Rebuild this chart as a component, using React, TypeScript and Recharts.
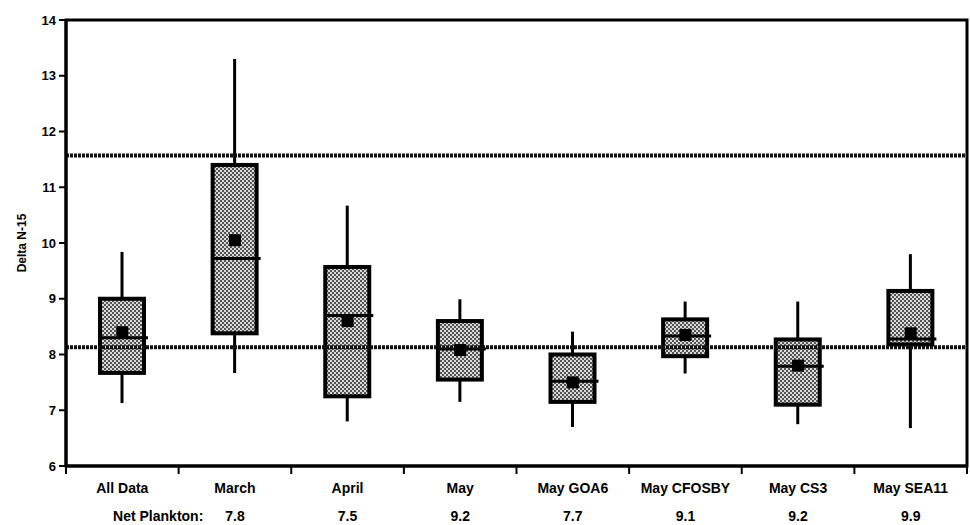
import {
  Bar,
  ComposedChart,
  ReferenceArea,
  ReferenceLine,
  Scatter,
  XAxis,
  YAxis,
} from 'recharts';

const categories = ['All Data', 'March', 'April', 'May', 'May GOA6', 'May CFOSBY', 'May CS3', 'May SEA11'];
const whiskerMax = [9.84, 13.3, 10.67, 8.99, 8.41, 8.95, 8.95, 9.8];
const q3 = [9.0, 11.4, 9.57, 8.6, 8.0, 8.63, 8.27, 9.14];
const median = [8.3, 9.72, 8.7, 8.1, 7.52, 8.33, 7.79, 8.28];
const q1 = [7.67, 8.38, 7.25, 7.55, 7.15, 7.97, 7.1, 8.18];
const whiskerMin = [7.13, 7.67, 6.8, 7.15, 6.7, 7.66, 6.75, 6.68];
const means = [8.4, 10.05, 8.6, 8.08, 7.5, 8.35, 7.8, 8.38];
const netPlankton = ['', '7.8', '7.5', '9.2', '7.7', '9.1', '9.2', '9.9'];
const refValues = [11.57, 8.13];
const yTicks = [6, 7, 8, 9, 10, 11, 12, 13, 14];

const W = 970;
const H = 525;
const M = { top: 20, right: 3, bottom: 0, left: 0 };
const Y_AXIS_W = 66;
const X_AXIS_H = 59;
const BAND = (W - M.right - Y_AXIS_W) / categories.length;
const FONT = '"Liberation Sans", Arial, sans-serif';

const chartData = categories.map((name, i) => ({
  name,
  range: [whiskerMin[i], whiskerMax[i]],
  min: whiskerMin[i],
  max: whiskerMax[i],
  q1: q1[i],
  q3: q3[i],
  median: median[i],
  mean: means[i],
  plankton: netPlankton[i],
}));

function BoxShape(props: any) {
  const { x, y, width, height, payload } = props;
  if (height == null || !payload) return null;
  const k = height / (payload.max - payload.min);
  const py = (v: number) => y + (payload.max - v) * k;
  const cx = x + width / 2;
  const top = py(payload.q3);
  const bot = py(payload.q1);
  const med = py(payload.median);
  return (
    <g>
      <line x1={cx} x2={cx} y1={y} y2={y + height} stroke="#000" strokeWidth={3} />
      <rect x={x} y={top} width={width} height={bot - top} fill="url(#halftone)" stroke="#000" strokeWidth={4} />
      <line x1={x} x2={x + width + 4} y1={med} y2={med} stroke="#000" strokeWidth={3} />
    </g>
  );
}

function MeanShape(props: any) {
  const { cx, cy } = props;
  if (cx == null || cy == null) return null;
  return <rect x={cx - 6} y={cy - 6} width={12} height={12} fill="#000" />;
}

function CategoryTick(props: any) {
  const { x, y, payload, index } = props;
  const row = chartData[index];
  const txt = { fontFamily: FONT, fontWeight: 'bold', fontSize: 14, fill: '#000' } as const;
  return (
    <g>
      <line x1={x - BAND / 2} x2={x - BAND / 2} y1={y - 6} y2={y + 2} stroke="#000" strokeWidth={2} />
      {index === categories.length - 1 ? (
        <line x1={x + BAND / 2} x2={x + BAND / 2} y1={y - 6} y2={y + 2} stroke="#000" strokeWidth={2} />
      ) : null}
      <text x={x} y={y + 21} textAnchor="middle" {...txt}>
        {payload.value}
      </text>
      {index === 0 ? (
        <text x={x + 81} y={y + 49} textAnchor="end" {...txt}>
          Net Plankton:
        </text>
      ) : (
        <text x={x} y={y + 49} textAnchor="middle" {...txt}>
          {row ? row.plankton : ''}
        </text>
      )}
    </g>
  );
}

export default function App() {
  return (
    <div style={{ position: 'absolute', left: 0, top: 0, width: W, height: H, background: '#fff' }}>
      <ComposedChart width={W} height={H} data={chartData} margin={M}>
        <defs>
          <pattern id="halftone" width={4} height={4} patternUnits="userSpaceOnUse">
            <rect width={4} height={4} fill="#d8d8d8" />
            <rect x={0} y={0} width={2} height={2} fill="#555" />
            <rect x={2} y={2} width={2} height={2} fill="#555" />
          </pattern>
        </defs>
        <ReferenceArea y1={6} y2={14} fill="none" stroke="#000" strokeWidth={3} ifOverflow="visible" />
        {refValues.map((v) => (
          <ReferenceLine key={v} y={v} stroke="#111" strokeWidth={4} strokeDasharray="3 1" />
        ))}
        <XAxis
          dataKey="name"
          type="category"
          interval={0}
          height={X_AXIS_H}
          tickLine={false}
          tickMargin={0}
          axisLine={{ stroke: '#000', strokeWidth: 3 }}
          tick={<CategoryTick />}
        />
        <YAxis
          type="number"
          domain={[6, 14]}
          ticks={yTicks}
          width={Y_AXIS_W}
          axisLine={{ stroke: '#000', strokeWidth: 3 }}
          tickLine={{ stroke: '#000', strokeWidth: 2 }}
          tickSize={7}
          tickMargin={3}
          tick={{ fill: '#000', fontSize: 13, fontWeight: 'bold', fontFamily: FONT }}
          label={{
            value: 'Delta N-15',
            angle: -90,
            position: 'insideLeft',
            offset: 22,
            style: { fill: '#000', fontSize: 12, fontWeight: 'bold', fontFamily: FONT, textAnchor: 'middle' },
          }}
        />
        <Bar dataKey="range" barSize={44} shape={<BoxShape />} isAnimationActive={false} />
        <Scatter dataKey="mean" shape={<MeanShape />} isAnimationActive={false} />
      </ComposedChart>
    </div>
  );
}
